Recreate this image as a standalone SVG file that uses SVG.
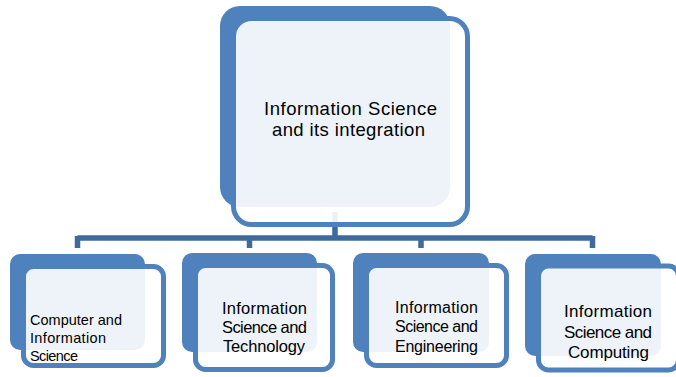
<svg xmlns="http://www.w3.org/2000/svg" width="676" height="377" viewBox="0 0 676 377">
<style>
.back{fill:#4f81bd}
.front{fill:#ffffff;fill-opacity:0.9;stroke:#4f81bd;stroke-width:5}
.conn{fill:none;stroke:#3f6a9c;stroke-width:5.5}
text{font-family:"Liberation Sans",Arial,sans-serif;fill:#000}
</style>
<rect width="676" height="377" fill="#ffffff"/>
<g id="connectors">
<path class="conn" d="M335,212 V238 M77.5,238 H592.5 M77.5,236 V248 M249.5,236 V248 M421,236 V248 M592.5,236 V248"/>
</g>
<g id="node-main">
<rect class="back" x="220" y="6" width="230" height="201" rx="20"/>
<rect class="front" x="233.5" y="18.5" width="234" height="206" rx="18"/>
<text font-size="18.5"><tspan x="264" y="115" textLength="173" lengthAdjust="spacing">Information Science</tspan><tspan x="272" y="136" textLength="153" lengthAdjust="spacing">and its integration</tspan></text>
</g>
<g id="node-1">
<rect class="back" x="10" y="254" width="135" height="96" rx="10"/>
<rect class="front" x="23.5" y="266.5" width="140" height="99" rx="10"/>
<text font-size="14.5"><tspan x="30" y="325" textLength="92" lengthAdjust="spacing">Computer and</tspan><tspan x="30" y="343" textLength="76" lengthAdjust="spacing">Information</tspan><tspan x="30" y="361" textLength="48" lengthAdjust="spacing">Science</tspan></text>
</g>
<g id="node-2">
<rect class="back" x="182" y="253" width="135" height="99" rx="10"/>
<rect class="front" x="195.5" y="265.5" width="137" height="104" rx="10"/>
<text font-size="16.5"><tspan x="222" y="314" textLength="85" lengthAdjust="spacing">Information</tspan><tspan x="222" y="333" textLength="85" lengthAdjust="spacing">Science and</tspan><tspan x="223" y="352" textLength="82" lengthAdjust="spacing">Technology</tspan></text>
</g>
<g id="node-3">
<rect class="back" x="353" y="253" width="136" height="99" rx="10"/>
<rect class="front" x="366.5" y="265.5" width="140" height="100" rx="10"/>
<text font-size="16"><tspan x="395" y="313" textLength="83" lengthAdjust="spacing">Information</tspan><tspan x="395" y="332" textLength="83" lengthAdjust="spacing">Science and</tspan><tspan x="395" y="352" textLength="83" lengthAdjust="spacing">Engineering</tspan></text>
</g>
<g id="node-4">
<rect class="back" x="525" y="254" width="136" height="102" rx="10"/>
<rect class="front" x="538.5" y="266" width="140" height="104" rx="10"/>
<text font-size="17"><tspan x="564" y="317" textLength="88" lengthAdjust="spacing">Information</tspan><tspan x="564" y="338" textLength="88" lengthAdjust="spacing">Science and</tspan><tspan x="568" y="358" textLength="81" lengthAdjust="spacing">Computing</tspan></text>
</g>
</svg>
